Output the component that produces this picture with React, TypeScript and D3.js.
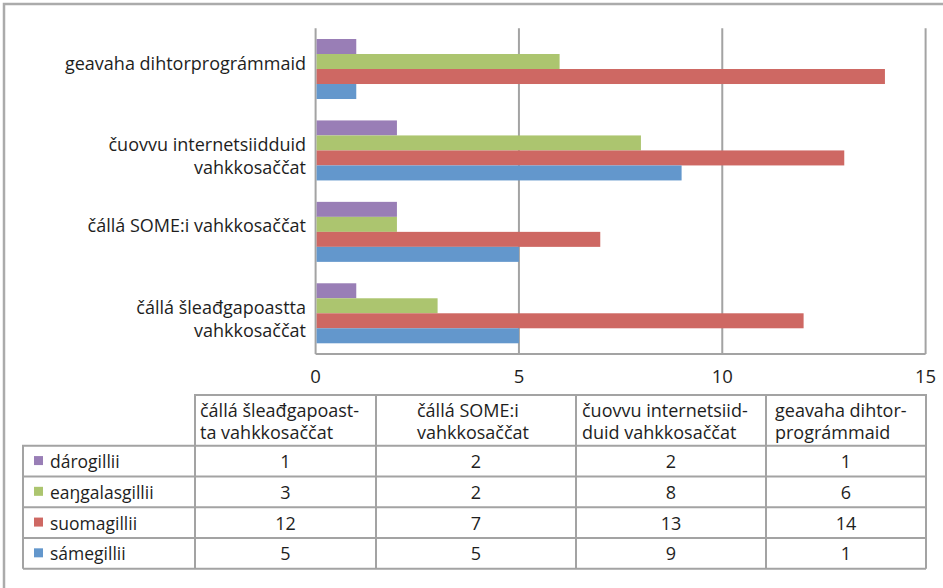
import React from 'react';
import { scaleLinear, scaleBand } from 'd3';

// categories bottom -> top, as Excel draws them
const categories = [
  'čállá šleađgapoastta vahkkosaččat',
  'čállá SOME:i vahkkosaččat',
  'čuovvu internetsiidduid vahkkosaččat',
  'geavaha dihtorprográmmaid'
];
const categoryLines = [
  ['čállá šleađgapoastta', 'vahkkosaččat'],
  ['čállá SOME:i vahkkosaččat'],
  ['čuovvu internetsiidduid', 'vahkkosaččat'],
  ['geavaha dihtorprográmmaid']
];
const headerLines = [
  ['čállá šleađgapoast-', 'ta vahkkosaččat'],
  ['čállá SOME:i', 'vahkkosaččat'],
  ['čuovvu internetsiid-', 'duid vahkkosaččat'],
  ['geavaha dihtor-', 'prográmmaid']
];

// series, in table order (top -> bottom)
const seriesNames = ['dárogillii', 'eaŋgalasgillii', 'suomagillii', 'sámegillii'];
const seriesColors = ['#997eb6', '#acc56f', '#ce6863', '#6397cc'];
const darogillii = [1, 2, 2, 1];
const eangalasgillii = [3, 2, 8, 6];
const suomagillii = [12, 7, 13, 14];
const samegillii = [5, 5, 9, 1];
const seriesValues = [darogillii, eangalasgillii, suomagillii, samegillii];

const xTicks = [0, 5, 10, 15];

const W = 943;
const H = 588;
const plot = { left: 315.6, right: 925.6, top: 28.3, bottom: 354 };
const colEdges = [195, 376, 576, 766, 926];
const headerX = [200, 417, 582, 775];
const tableTop = 395;
const headerBottom = 445.7;
const rowH = 30.75;
const rowLabelLeft = 23;
const FONT = '"Open Sans", sans-serif';
const GRID = '#a3a3a3';
const INK = '#1e1e1e';

const App = () => {
  const x = scaleLinear().domain([0, 15]).range([plot.left, plot.right]);
  const y = scaleBand<string>()
    .domain(categories)
    .range([plot.bottom, plot.top])
    .paddingInner(0.263)
    .paddingOuter(0.1315);
  const yInner = scaleBand<string>().domain(seriesNames).range([0, y.bandwidth()]);

  const tableBottom = headerBottom + rowH * seriesNames.length;

  return (
    <div style={{ position: 'absolute', left: 0, top: 0 }}>
      <svg width={W} height={H} style={{ display: 'block', background: '#fff' }} fontFamily={FONT}>
        {/* outer frame */}
        <path d={`M4,${H + 5} V4 H${W + 5}`} fill="none" stroke="#ababab" strokeWidth={2.5} />

        {/* gridlines */}
        {xTicks.map(t => (
          <line key={t} x1={x(t)} x2={x(t)} y1={plot.top} y2={plot.bottom} stroke={GRID} strokeWidth={2} />
        ))}
        <line x1={plot.left} x2={plot.right} y1={plot.bottom} y2={plot.bottom} stroke={GRID} strokeWidth={2} />

        {/* bars */}
        {categories.map((c, ci) =>
          seriesNames.map((s, si) => (
            <rect
              key={c + s}
              x={x(0) + 1}
              y={(y(c) as number) + (yInner(s) as number)}
              width={x(seriesValues[si][ci]) - x(0) - 1}
              height={yInner.bandwidth()}
              fill={seriesColors[si]}
            />
          ))
        )}

        {/* category labels: first line sits a little above the band centre */}
        {categories.map((c, ci) => {
          const cy = (y(c) as number) + y.bandwidth() / 2 - 6.5;
          return (
            <text key={c} x={306} textAnchor="end" fontSize={18} fill={INK}>
              {categoryLines[ci].map((l, li) => (
                <tspan key={li} x={306} y={cy + li * 23} dominantBaseline="central">
                  {l}
                </tspan>
              ))}
            </text>
          );
        })}

        {/* x tick labels */}
        {xTicks.map(t => (
          <text key={t} x={x(t)} y={375} textAnchor="middle" dominantBaseline="central" fontSize={18.5} fill={INK}>
            {t}
          </text>
        ))}

        {/* data table */}
        <g stroke={GRID} strokeWidth={2} fill="none">
          <path d={`M${colEdges[0]},${tableBottom} V${tableTop} H${colEdges[4]} V${tableBottom}`} />
          <path d={`M${rowLabelLeft},${tableBottom} V${headerBottom} H${colEdges[4]}`} />
          <line x1={rowLabelLeft} x2={colEdges[4]} y1={tableBottom} y2={tableBottom} />
          {colEdges.slice(1, 4).map(e => (
            <line key={e} x1={e} x2={e} y1={tableTop} y2={tableBottom} />
          ))}
          {seriesNames.slice(1).map((s, i) => (
            <line key={s} x1={rowLabelLeft} x2={colEdges[4]} y1={headerBottom + rowH * (i + 1)} y2={headerBottom + rowH * (i + 1)} />
          ))}
        </g>

        {headerLines.map((lines, ci) => (
          <text key={ci} fontSize={18} fill={INK}>
            {lines.map((l, li) => (
              <tspan key={li} x={headerX[ci]} y={410 + li * 22} dominantBaseline="central">
                {l}
              </tspan>
            ))}
          </text>
        ))}

        {seriesNames.map((s, si) => {
          const cy = headerBottom + rowH * si + rowH / 2;
          return (
            <g key={s}>
              <rect x={34} y={cy - 5} width={9} height={9} fill={seriesColors[si]} />
              <text x={50} y={cy} dominantBaseline="central" fontSize={17.5} fill={INK}>
                {s}
              </text>
              {seriesValues[si].map((v, ci) => (
                <text
                  key={ci}
                  x={(colEdges[ci] + colEdges[ci + 1]) / 2}
                  y={cy}
                  textAnchor="middle"
                  dominantBaseline="central"
                  fontSize={18}
                  fill={INK}
                >
                  {v}
                </text>
              ))}
            </g>
          );
        })}
      </svg>
    </div>
  );
};

export default App;
